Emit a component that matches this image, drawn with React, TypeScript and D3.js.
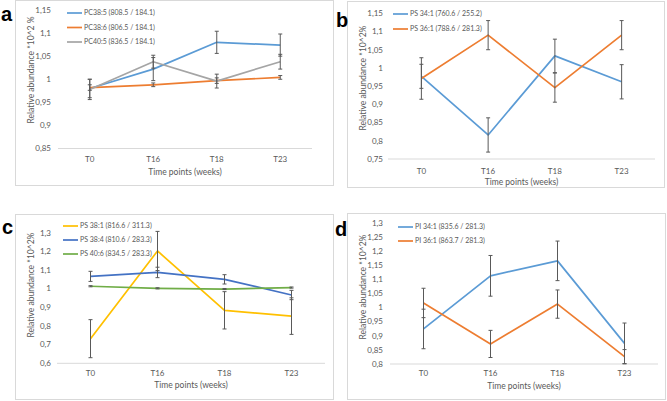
import React from "react";
import * as d3 from "d3";

const categories = ["T0", "T16", "T18", "T23"];

// Panel a
const aTicks = [0.85, 0.9, 0.95, 1, 1.05, 1.1, 1.15];
const aNames = ["PC38:5 (808.5 / 184.1)", "PC38:6 (806.5 / 184.1)", "PC40:5 (836.5 / 184.1)"];
const aPC385 = [0.98, 1.022, 1.08, 1.074];
const aPC385Err = [0.02, 0.025, 0.024, 0.024];
const aPC386 = [0.982, 0.988, 0.997, 1.004];
const aPC386Err = [0.006, 0.004, 0.006, 0.004];
const aPC405 = [0.978, 1.038, 0.996, 1.038];
const aPC405Err = [0.022, 0.014, 0.015, 0.016];

// Panel b
const bTicks = [0.75, 0.8, 0.85, 0.9, 0.95, 1, 1.05, 1.1, 1.15];
const bNames = ["PS 34:1 (760.6 / 255.2)", "PS 36:1 (788.6 / 281.3)"];
const bPS341 = [0.977, 0.816, 1.033, 0.962];
const bPS341Err = [0.033, 0.047, 0.046, 0.047];
const bPS361 = [0.971, 1.09, 0.946, 1.09];
const bPS361Err = [0.057, 0.04, 0.04, 0.04];

// Panel c
const cTicks = [0.6, 0.7, 0.8, 0.9, 1, 1.1, 1.2, 1.3];
const cNames = ["PS 38:1 (816.6 / 311.3)", "PS 38:4 (810.6 / 283.3)", "PS 40:6 (834.5 / 283.3)"];
const cPS381 = [0.732, 1.202, 0.884, 0.853];
const cPS381Err = [0.102, 0.105, 0.1, 0.098];
const cPS384 = [1.066, 1.087, 1.05, 0.966];
const cPS384Err = [0.027, 0.028, 0.025, 0.025];
const cPS406 = [1.013, 1.002, 0.998, 1.006];
const cPS406Err = [0.003, 0.003, 0.003, 0.003];

// Panel d
const dTicks = [0.8, 0.85, 0.9, 0.95, 1, 1.05, 1.1, 1.15, 1.2, 1.25, 1.3];
const dNames = ["PI 34:1 (835.6 / 281.3)", "PI 36:1 (863.7 / 281.3)"];
const dPI341 = [0.924, 1.112, 1.165, 0.873];
const dPI341Err = [0.07, 0.072, 0.07, 0.072];
const dPI361 = [1.016, 0.871, 1.012, 0.826];
const dPI361Err = [0.052, 0.048, 0.05, 0.025];

const TEXT = "#595959";
const FONT = "Lato, 'Open Sans', sans-serif";

type Series = { name: string; values: number[]; err: number[]; color: string };

type PanelProps = {
  letter: string;
  letterX: number;
  letterY: number;
  frame: [number, number, number, number];
  x0: number;
  x1: number;
  yTop: number;
  yBottom: number;
  ticks: number[];
  labelX: number;
  titleX: number;
  titleY: number;
  yTitle: string;
  tickLabelY: number;
  xTitleY: number;
  legendX: number;
  legendY: number;
  legendStep: number;
  series: Series[];
};

const fmt = (v: number) => String(+v.toFixed(2)).replace(".", ",");

function Panel(p: PanelProps) {
  const x = d3.scaleBand<string>().domain(categories).range([p.x0, p.x1]);
  const dom = d3.extent(p.ticks) as [number, number];
  const y = d3.scaleLinear().domain(dom).range([p.yBottom, p.yTop]);
  const cx = (c: string) => (x(c) as number) + x.bandwidth() / 2;
  const line = d3
    .line<number>()
    .x((_, i) => cx(categories[i]))
    .y((v) => y(v));
  const [fx, fy, fw, fh] = p.frame;
  return (
    <g>
      <rect x={fx} y={fy} width={fw} height={fh} fill="white" stroke="#d9d9d9" strokeWidth={1} />
      <text x={p.letterX} y={p.letterY} fontFamily="'Liberation Sans', Arial, sans-serif" fontWeight="bold" fontSize={20} fill="#000">
        {p.letter}
      </text>
      {p.ticks.map((t) => (
        <text key={t} x={p.labelX} y={y(t)} dy="0.35em" textAnchor="end" fontSize={8} fontFamily={FONT} fill={TEXT}>
          {fmt(t)}
        </text>
      ))}
      <line x1={p.x0} x2={p.x1} y1={p.yBottom} y2={p.yBottom} stroke="#d9d9d9" strokeWidth={1} />
      {categories.map((c) => (
        <text key={c} x={cx(c)} y={p.tickLabelY} dy="0.35em" textAnchor="middle" fontSize={8} fontFamily={FONT} fill={TEXT}>
          {c}
        </text>
      ))}
      <text x={(p.x0 + p.x1) / 2} y={p.xTitleY} dy="0.35em" textAnchor="middle" fontSize={8.5} fontFamily={FONT} fill={TEXT}>
        Time points (weeks)
      </text>
      <text
        transform={`translate(${p.titleX},${p.titleY}) rotate(-90)`}
        dy="0.35em"
        textAnchor="middle"
        fontSize={8.5}
        fontFamily={FONT}
        fill={TEXT}
      >
        {p.yTitle}
      </text>
      {p.series.map((s) => (
        <path key={s.name} d={line(s.values) || ""} fill="none" stroke={s.color} strokeWidth={1.7} strokeLinejoin="round" />
      ))}
      {p.series.map((s) =>
        s.values.map((v, i) => {
          const xx = cx(categories[i]);
          const yt = y(v + s.err[i]);
          const yb = y(v - s.err[i]);
          return (
            <g key={s.name + i} stroke="#595959" strokeWidth={1}>
              <line x1={xx} x2={xx} y1={yt} y2={yb} />
              <line x1={xx - 2} x2={xx + 2} y1={yt} y2={yt} />
              <line x1={xx - 2} x2={xx + 2} y1={yb} y2={yb} />
            </g>
          );
        })
      )}
      {p.series.map((s, i) => (
        <g key={"lg" + s.name}>
          <line
            x1={p.legendX}
            x2={p.legendX + 15}
            y1={p.legendY + i * p.legendStep}
            y2={p.legendY + i * p.legendStep}
            stroke={s.color}
            strokeWidth={1.7}
          />
          <text x={p.legendX + 17} y={p.legendY + i * p.legendStep} dy="0.35em" fontSize={7} fontFamily={FONT} fill={TEXT}>
            {s.name}
          </text>
        </g>
      ))}
    </g>
  );
}

export default function App() {
  const yTitleA = "Relative abundance *10^2 %";
  const yTitle = "Relative abundance *10^2%";
  return (
    <svg width={667} height={401} style={{ position: "absolute", left: 0, top: 0, background: "white" }}>
      <rect x={0} y={0} width={667} height={401} fill="white" />
      <Panel
        letter="a"
        letterX={1}
        letterY={21}
        frame={[15.5, 0.5, 318, 185]}
        x0={58}
        x1={312}
        yTop={10}
        yBottom={148.5}
        ticks={aTicks}
        labelX={51}
        titleX={31}
        titleY={70}
        yTitle={yTitleA}
        tickLabelY={159}
        xTitleY={172}
        legendX={67}
        legendY={13}
        legendStep={14.5}
        series={[
          { name: aNames[0], values: aPC385, err: aPC385Err, color: "#5B9BD5" },
          { name: aNames[1], values: aPC386, err: aPC386Err, color: "#ED7D31" },
          { name: aNames[2], values: aPC405, err: aPC405Err, color: "#A5A5A5" },
        ]}
      />
      <Panel
        letter="b"
        letterX={336}
        letterY={27}
        frame={[347.5, 1.5, 317, 186]}
        x0={388}
        x1={655}
        yTop={13.3}
        yBottom={159}
        ticks={bTicks}
        labelX={383}
        titleX={363}
        titleY={78}
        yTitle={yTitle}
        tickLabelY={171}
        xTitleY={182}
        legendX={393}
        legendY={14}
        legendStep={15}
        series={[
          { name: bNames[0], values: bPS341, err: bPS341Err, color: "#5B9BD5" },
          { name: bNames[1], values: bPS361, err: bPS361Err, color: "#ED7D31" },
        ]}
      />
      <Panel
        letter="c"
        letterX={2}
        letterY={234}
        frame={[15.5, 214.5, 318, 185]}
        x0={57}
        x1={325}
        yTop={232.7}
        yBottom={363.3}
        ticks={cTicks}
        labelX={51}
        titleX={31}
        titleY={285}
        yTitle={yTitle}
        tickLabelY={373}
        xTitleY={385}
        legendX={63}
        legendY={226}
        legendStep={14}
        series={[
          { name: cNames[0], values: cPS381, err: cPS381Err, color: "#FFC000" },
          { name: cNames[1], values: cPS384, err: cPS384Err, color: "#4472C4" },
          { name: cNames[2], values: cPS406, err: cPS406Err, color: "#70AD47" },
        ]}
      />
      <Panel
        letter="d"
        letterX={335}
        letterY={236}
        frame={[347.5, 213.5, 318, 186]}
        x0={390}
        x1={658}
        yTop={222.7}
        yBottom={364}
        ticks={dTicks}
        labelX={383}
        titleX={363}
        titleY={287}
        yTitle={yTitle}
        tickLabelY={373}
        xTitleY={386}
        legendX={398}
        legendY={227}
        legendStep={14}
        series={[
          { name: dNames[0], values: dPI341, err: dPI341Err, color: "#5B9BD5" },
          { name: dNames[1], values: dPI361, err: dPI361Err, color: "#ED7D31" },
        ]}
      />
    </svg>
  );
}
